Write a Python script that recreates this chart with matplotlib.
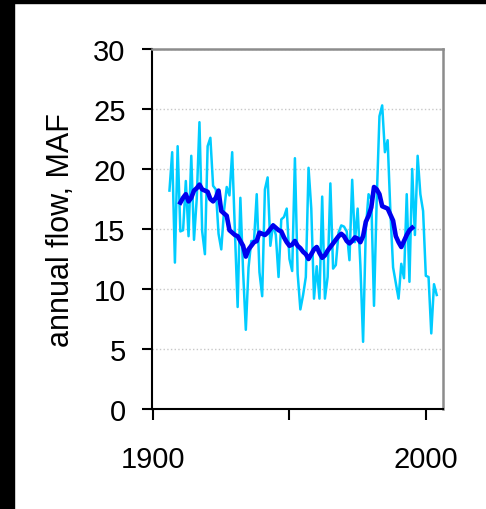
import numpy as np
import matplotlib
matplotlib.use("Agg")
import matplotlib.pyplot as plt
from matplotlib.patches import Rectangle

plt.rcParams['font.family'] = ['Liberation Sans', 'DejaVu Sans']

# annual flow, one value per year 1906-2004 (MAF)
years = np.arange(1906, 2005)
annual_flow = [
    18.2, 21.4, 12.2, 21.9,                                       # 1906-1909
    14.8, 14.9, 19.0, 14.4, 21.1, 14.1, 17.5, 23.9, 14.8, 12.9,   # 1910s
    21.9, 22.6, 18.6, 18.3, 14.6, 13.3, 16.5, 18.5, 17.8, 21.4,   # 1920s
    14.8, 8.5, 17.6, 11.5, 6.6, 11.8, 14.0, 14.0, 17.9, 11.4,     # 1930s
    9.4, 18.3, 19.3, 13.6, 15.4, 14.5, 11.0, 15.8, 16.0, 16.7,    # 1940s
    12.5, 11.5, 20.9, 11.3, 8.3, 9.5, 11.0, 20.1, 16.7, 9.2,      # 1950s
    11.9, 9.2, 17.7, 9.2, 11.0, 18.8, 11.7, 12.0, 14.7, 15.3,     # 1960s
    15.2, 14.8, 12.4, 19.1, 13.9, 16.7, 12.0, 5.6, 15.0, 17.9,    # 1970s
    17.5, 8.6, 17.5, 24.4, 25.3, 21.4, 22.4, 16.5, 11.8, 10.5,    # 1980s
    9.2, 12.1, 10.9, 17.9, 10.6, 20.0, 14.5, 21.1, 17.9, 16.5,    # 1990s
    11.1, 11.0, 6.3, 10.4, 9.5,                                   # 2000-2004
]

# running mean, 1910-1995
mean_years = np.arange(1910, 1996)
running_mean = [
    17.2, 17.6, 17.9, 17.3, 17.6, 18.2, 18.4, 18.7, 18.3, 18.2,   # 1910s
    18.1, 17.5, 17.3, 17.6, 18.2, 16.5, 16.3, 16.1, 14.9, 14.7,   # 1920s
    14.5, 14.4, 14.0, 13.6, 12.7, 13.3, 13.6, 13.9, 14.0, 14.7,   # 1930s
    14.6, 14.5, 14.7, 15.0, 15.3, 15.1, 14.9, 14.8, 14.3, 13.9,   # 1940s
    13.6, 13.7, 14.0, 13.6, 13.4, 13.1, 12.9, 12.5, 12.9, 13.3,   # 1950s
    13.5, 13.0, 12.6, 12.8, 13.2, 13.5, 13.8, 14.1, 14.4, 14.6,   # 1960s
    14.4, 14.0, 13.8, 14.0, 14.3, 14.2, 13.9, 14.4, 15.6, 16.1,   # 1970s
    16.8, 18.5, 18.3, 17.9, 16.9, 16.8, 16.7, 16.2, 15.7, 14.4,   # 1980s
    13.9, 13.5, 14.0, 14.5, 14.9, 15.1,                           # 1990-1995
]

x_ticks = [1900, 1950, 2000]
x_labels = ['1900', '', '2000']
y_ticks = [0, 5, 10, 15, 20, 25, 30]

fig = plt.figure(figsize=(4.86, 5.10), dpi=100)
ax = fig.add_axes([152/486, 1 - 410/510, 291/486, 360/510])

ax.plot(years, annual_flow, color='#00CCFF', lw=1.8, zorder=3)
ax.plot(mean_years, running_mean, color='#0000EE', lw=3.3, zorder=4)

ax.set_xlim(1899.6, 2006.3)
ax.set_ylim(0, 30)
ax.set_xticks(x_ticks)
ax.set_xticklabels(x_labels)
ax.set_yticks(y_ticks)
ax.yaxis.grid(True, color='#C8C8C8', ls=':', lw=1.0)
ax.set_axisbelow(True)

for s in ['left', 'bottom']:
    ax.spines[s].set_color('black')
    ax.spines[s].set_linewidth(1.5)
for s in ['top', 'right']:
    ax.spines[s].set_color('#8C8C8C')
    ax.spines[s].set_linewidth(1.8)

ax.tick_params(axis='y', direction='out', length=7, width=1.5, labelsize=21, pad=12)
ax.tick_params(axis='x', direction='out', length=8, width=1.5, labelsize=21, pad=18)
ax.set_ylabel('annual flow, MAF', fontsize=22, labelpad=12)

# black frame strips along the top and left edge
fig.patches.append(Rectangle((0, 0), 14/486, 1, transform=fig.transFigure,
                             color='black', zorder=10))
fig.patches.append(Rectangle((0, 1 - 4/510), 1, 4/510, transform=fig.transFigure,
                             color='black', zorder=10))

fig.savefig('out.png', dpi=100)
